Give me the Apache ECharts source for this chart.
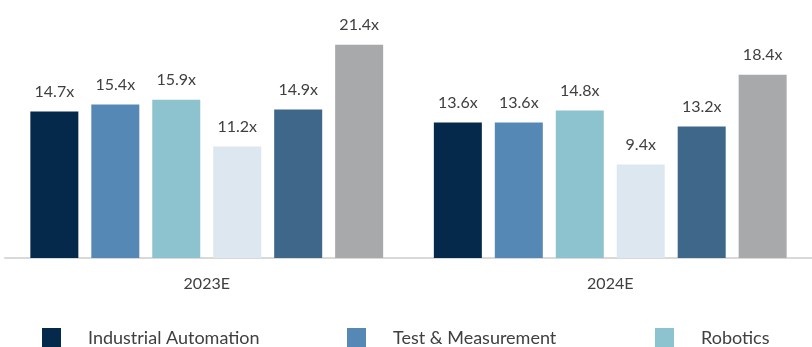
<!DOCTYPE html>
<html>
<head>
<meta charset="utf-8">
<script src="https://cdn.jsdelivr.net/npm/echarts@6/dist/echarts.min.js"></script>
<style>
  html, body { margin: 0; padding: 0; background: #ffffff; }
  #chart { width: 812px; height: 347px; }
</style>
</head>
<body>
<div id="chart"></div>
<script>
// EV / EBITDA multiples by industrial technology segment
const categories = ['2023E', '2024E'];
const seriesNames = [
  'Industrial Automation',
  'Test & Measurement',
  'Robotics',
  'Motion & Controls',
  'Diversified Industrials',
  'Industrial Software'
];
const industrialAutomation = [14.7, 13.6];
const testMeasurement = [15.4, 13.6];
const robotics = [15.9, 14.8];
const motionControls = [11.2, 9.4];
const diversifiedIndustrials = [14.9, 13.2];
const industrialSoftware = [21.4, 18.4];

const seriesValues = [
  industrialAutomation,
  testMeasurement,
  robotics,
  motionControls,
  diversifiedIndustrials,
  industrialSoftware
];
const colors = ['#05294a', '#5588b4', '#8dc2cf', '#dde7f0', '#3e6789', '#a8a9ab'];

const FONT = 'Lato, "Noto Sans", sans-serif';
const TEXT = '#404040';

// Legend laid out as a grid: three fixed-width columns, rows of 30px
const legendColumns = [37, 342, 650];
const legendTop = 323;
const legendRowHeight = 30;

const chart = echarts.init(document.getElementById('chart'), null, { renderer: 'canvas' });

chart.setOption({
  animation: false,
  color: colors,
  textStyle: { fontFamily: FONT },
  grid: { left: 5, width: 810, top: 9, bottom: 89 },
  legend: seriesNames.map((name, i) => ({
    data: [name],
    left: legendColumns[i % 3],
    top: legendTop + Math.floor(i / 3) * legendRowHeight,
    icon: 'rect',
    itemWidth: 19,
    itemHeight: 21,
    selectedMode: false,
    textStyle: {
      fontFamily: FONT,
      fontSize: 18,
      color: TEXT,
      padding: [0, 0, 0, 22]
    }
  })),
  xAxis: {
    type: 'category',
    data: categories,
    axisLine: { show: true, lineStyle: { color: '#d9d9d9', width: 2 } },
    axisTick: { show: false },
    axisLabel: { color: TEXT, fontSize: 16, fontFamily: FONT, margin: 18 }
  },
  yAxis: {
    type: 'value',
    min: 0,
    max: 25,
    show: false,
    splitLine: { show: false }
  },
  series: seriesNames.map((name, i) => ({
    name: name,
    type: 'bar',
    data: seriesValues[i],
    barWidth: 48,
    barGap: '27%',
    itemStyle: { color: colors[i] },
    label: {
      show: true,
      position: 'top',
      distance: 12,
      color: TEXT,
      fontSize: 16,
      fontFamily: FONT,
      formatter: p => p.value.toFixed(1) + 'x'
    }
  }))
});
</script>
</body>
</html>
